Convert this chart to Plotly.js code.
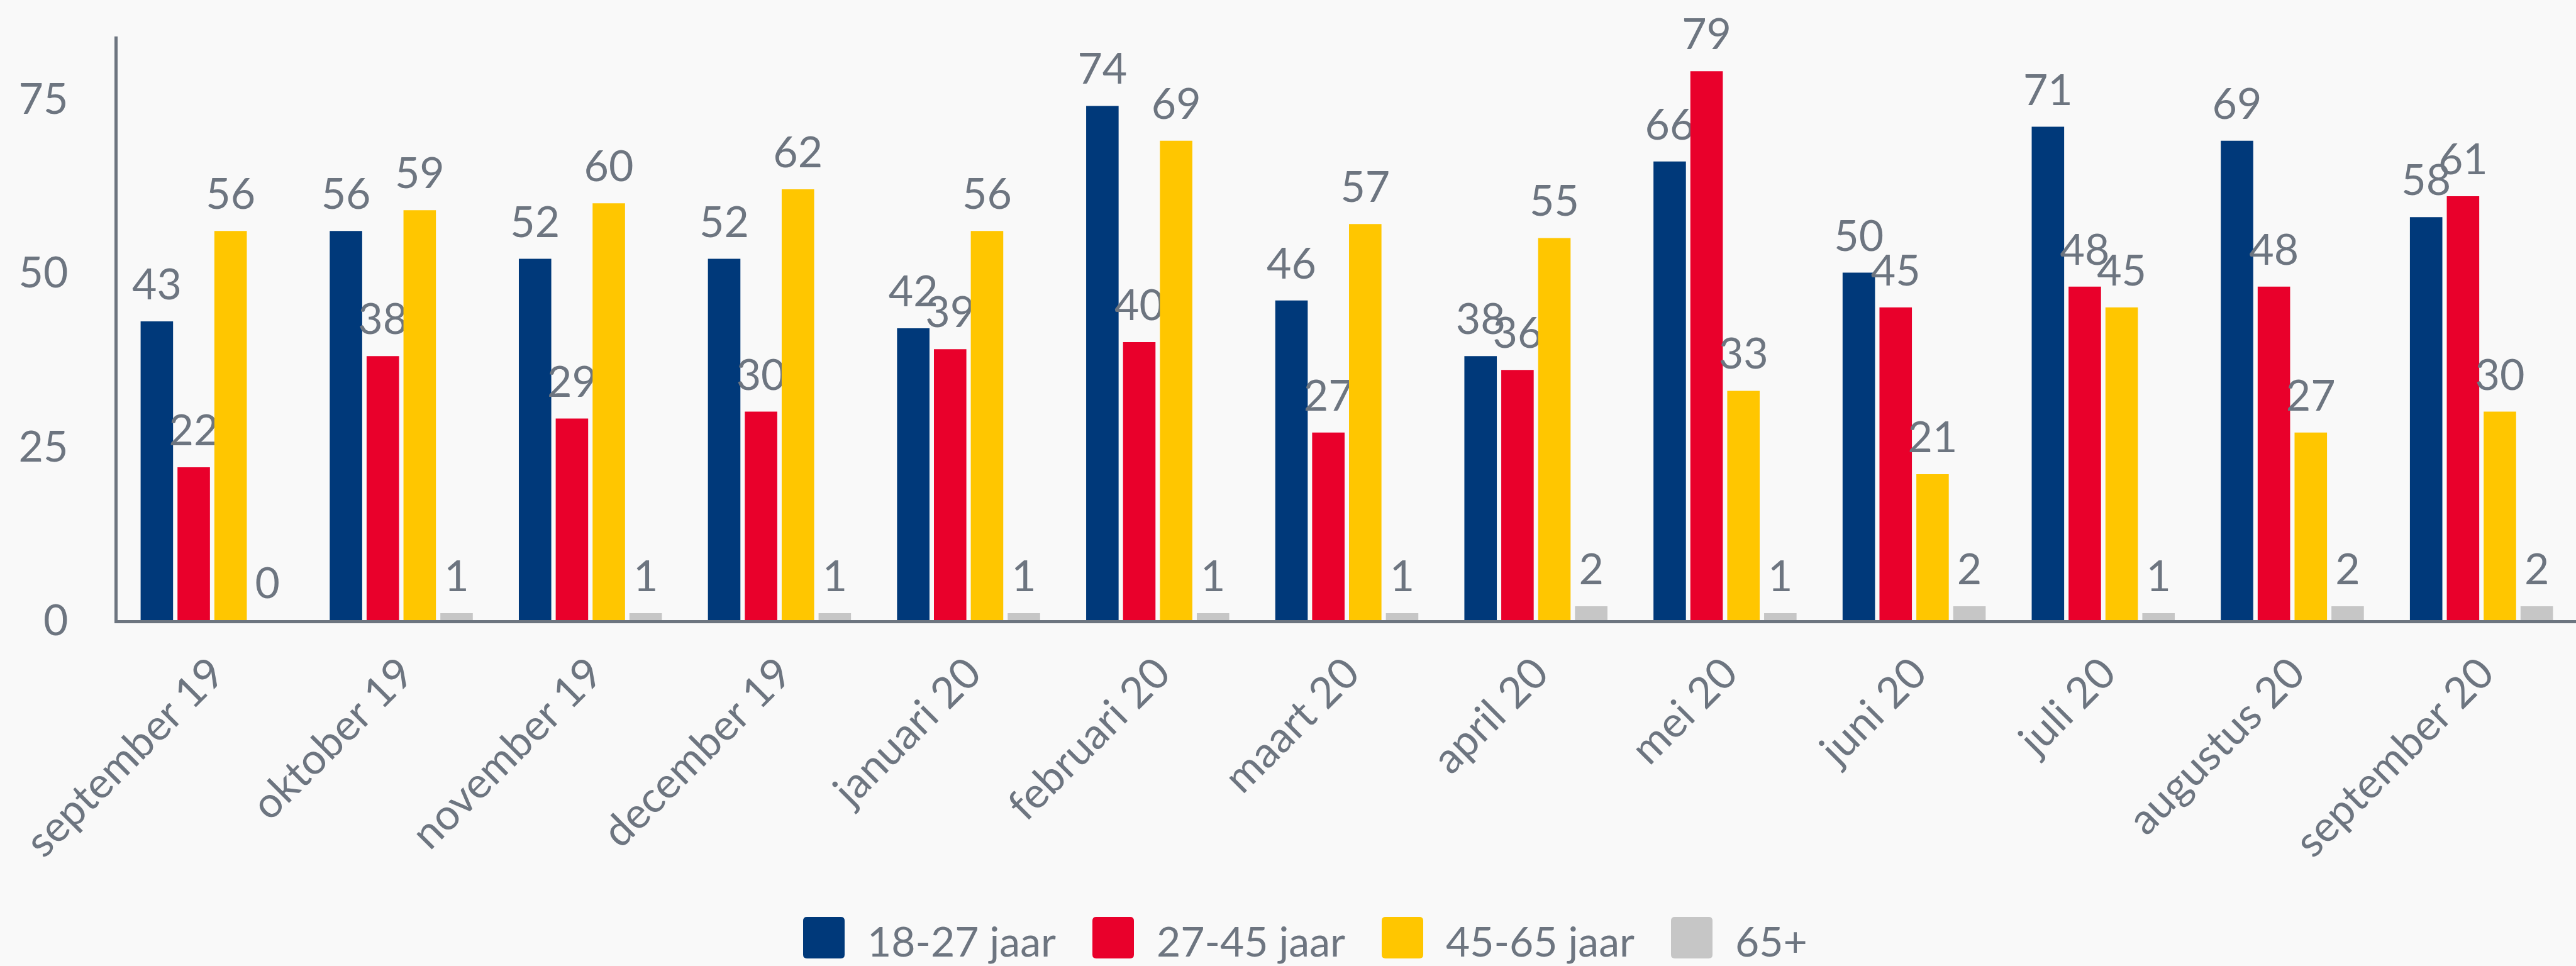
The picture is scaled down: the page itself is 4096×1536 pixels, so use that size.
<!DOCTYPE html>
<html><head><meta charset="utf-8">
<script src="https://cdn.plot.ly/plotly-3.0.1.min.js"></script>
<style>html,body{margin:0;padding:0;background:#F9F9F9;}#chart{width:4096px;height:1536px;}</style>
</head><body><div id="chart"></div>
<script>
const months = ['september 19','oktober 19','november 19','december 19','januari 20','februari 20','maart 20','april 20','mei 20','juni 20','juli 20','augustus 20','september 20'];
const seriesNames = ['18-27 jaar','27-45 jaar','45-65 jaar','65+'];
const age18_27 = [43,56,52,52,42,74,46,38,66,50,71,69,58];
const age27_45 = [22,38,29,30,39,40,27,36,79,45,48,48,61];
const age45_65 = [56,59,60,62,56,69,57,55,33,21,45,27,30];
const age65plus = [0,1,1,1,1,1,1,2,1,2,1,2,2];
const yTicks = [0,25,50,75];

const colors = ['#00397A','#E9002B','#FFC600','#C6C6C6'];
const textColor = '#6D7580';
const FONT = 'Lato, "Open Sans", sans-serif';
const FS = 68;

const W = 4096, H = 1536;
const M = {l:187, r:0, t:58, b:550};
const pw = W - M.l - M.r, ph = H - M.t - M.b;

const seriesValues = [age18_27, age27_45, age45_65, age65plus];
const traces = seriesValues.map((vals, i) => ({
  type: 'bar',
  name: seriesNames[i],
  x: months,
  y: vals,
  marker: {color: colors[i], line: {width: 0}},
  text: vals.map(String),
  textposition: 'outside',
  textfont: {family: FONT, size: FS, color: textColor},
  constraintext: 'none',
  cliponaxis: false,
  hoverinfo: 'x+y+name'
}));

// custom legend (large square swatches)
const shapes = [], annotations = [];
const legStart = 1277, legPitch = 460, sw = 66, legCy = 1491, rad = 6;
const px2x = p => (p - M.l) / pw;
const px2y = p => (H - M.b - p) / ph;
seriesNames.forEach((nm, i) => {
  const x0 = legStart + i * legPitch, x1 = x0 + sw;
  const y0 = legCy - sw / 2, y1 = legCy + sw / 2;
  const P = (x, y) => px2x(x).toFixed(6) + ',' + px2y(y).toFixed(6);
  const path = 'M' + P(x0 + rad, y0) + ' L' + P(x1 - rad, y0) + ' Q' + P(x1, y0) + ' ' + P(x1, y0 + rad) +
    ' L' + P(x1, y1 - rad) + ' Q' + P(x1, y1) + ' ' + P(x1 - rad, y1) +
    ' L' + P(x0 + rad, y1) + ' Q' + P(x0, y1) + ' ' + P(x0, y1 - rad) +
    ' L' + P(x0, y0 + rad) + ' Q' + P(x0, y0) + ' ' + P(x0 + rad, y0) + ' Z';
  shapes.push({type: 'path', xref: 'paper', yref: 'paper', path: path, fillcolor: colors[i], line: {width: 0}});
  annotations.push({xref: 'paper', yref: 'paper', x: px2x(x0 + 100), y: px2y(legCy + 4), xanchor: 'left', yanchor: 'middle',
    text: nm, showarrow: false, font: {family: FONT, size: 66, color: textColor}});
});

const layout = {
  width: W, height: H,
  margin: M,
  paper_bgcolor: '#F9F9F9',
  plot_bgcolor: '#F9F9F9',
  barmode: 'group',
  bargap: 0.22,
  bargroupgap: 0.12,
  showlegend: false,
  font: {family: FONT, size: FS, color: textColor},
  xaxis: {
    type: 'category',
    showline: true, linecolor: textColor, linewidth: 5,
    showgrid: false, zeroline: false,
    ticks: '', tickangle: -45,
    ticklabelstandoff: 12,
    tickfont: {family: FONT, size: FS, color: textColor}
  },
  yaxis: {
    range: [0, 84],
    tickvals: yTicks,
    showline: true, linecolor: textColor, linewidth: 5,
    showgrid: false, zeroline: false,
    ticks: '',
    ticklabelstandoff: 60,
    tickfont: {family: FONT, size: FS, color: textColor}
  },
  shapes: shapes,
  annotations: annotations
};

Plotly.newPlot('chart', traces, layout, {displayModeBar: false, staticPlot: true}).then(gd => {
  // lift the value labels a little above the bars, as in the reference
  gd.querySelectorAll('text.bartext').forEach(t => {
    const tr = t.getAttribute('transform') || '';
    t.setAttribute('transform', 'translate(0,-18) ' + tr);
  });
});
</script></body></html>
